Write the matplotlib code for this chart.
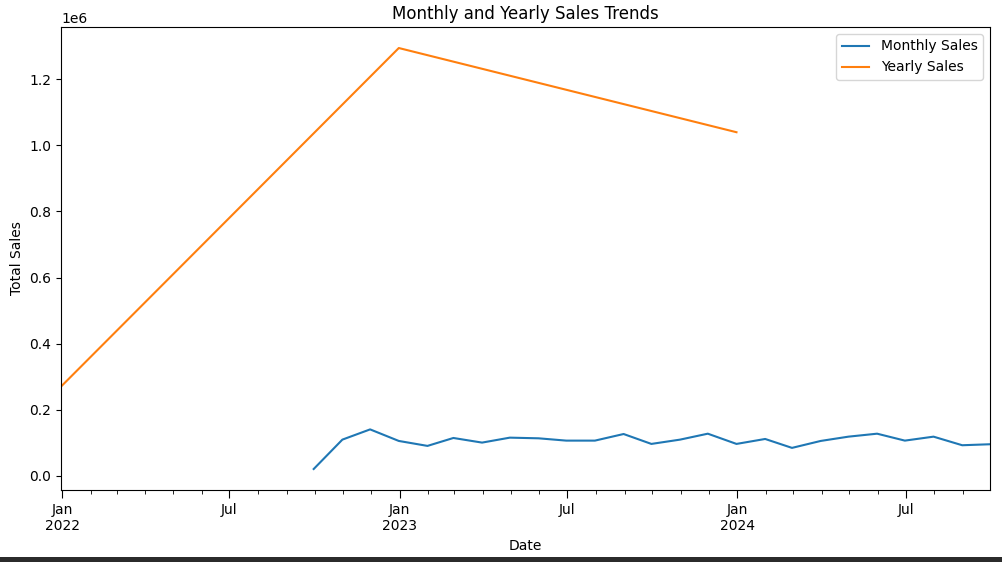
import matplotlib
matplotlib.use("Agg")
import matplotlib.pyplot as plt
import matplotlib.dates as mdates
from matplotlib.patches import Rectangle
import pandas as pd

# monthly totals (month end)
monthly_dates = pd.date_range("2022-09-30", "2024-09-30", freq="ME")
monthly_sales = [20000, 109000, 140000, 105000, 90000, 114000, 100000, 115000,
                 113000, 106000, 106000, 126000, 96000, 109000, 127000, 96000,
                 111000, 84000, 105000, 118000, 127000, 106000, 118000, 92000,
                 95000]

# yearly totals (year end)
yearly_dates = pd.to_datetime(["2021-12-31", "2022-12-31", "2023-12-31"])
yearly_sales = [270000, 1295000, 1040000]


def date_label(x, pos=None):
    d = mdates.num2date(x)
    if d.month == 1:
        return "Jan\n%d" % d.year
    return d.strftime("%b")


def main():
    fig = plt.figure(figsize=(10.02, 5.62), dpi=100)
    ax = fig.add_axes([0.061, 0.128, 0.927, 0.824])

    ax.plot(monthly_dates, monthly_sales, label="Monthly Sales")
    ax.plot(yearly_dates, yearly_sales, label="Yearly Sales")

    ax.set_xlim(yearly_dates[0], monthly_dates[-1])
    ax.xaxis.set_major_locator(mdates.MonthLocator(bymonth=[1, 7]))
    ax.xaxis.set_minor_locator(mdates.MonthLocator())
    ax.xaxis.set_major_formatter(plt.FuncFormatter(date_label))
    ax.tick_params(axis="x", which="major", length=6)
    ax.tick_params(axis="x", which="minor", length=3)

    ax.set_title("Monthly and Yearly Sales Trends")
    ax.set_xlabel("Date")
    ax.set_ylabel("Total Sales")
    ax.legend(loc="upper right")

    # dark strip at the bottom edge of the screenshot
    fig.patches.append(Rectangle((0, 0), 1, 5 / 562, transform=fig.transFigure,
                                 facecolor="#2b2b2b", edgecolor="none"))

    fig.savefig("out.png", dpi=100)


if __name__ == "__main__":
    main()
